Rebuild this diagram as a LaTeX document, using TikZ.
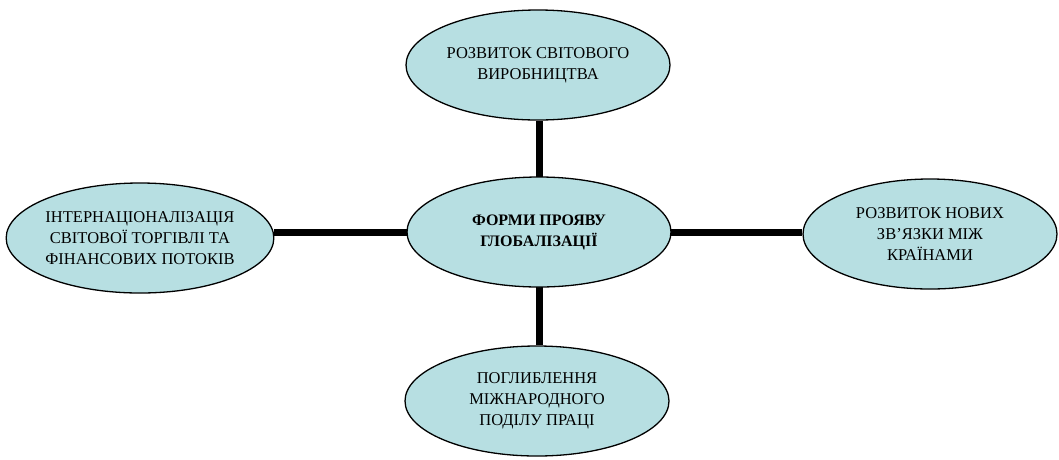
\documentclass[tikz,border=0pt]{standalone}
\usepackage{fontspec}
\setmainfont{Liberation Serif}
\usetikzlibrary{shapes.geometric,backgrounds}
\definecolor{ellfill}{RGB}{183,223,226}
\begin{document}
\begin{tikzpicture}[x=1pt,y=-1pt,
  oval/.style={ellipse,draw=black,line width=1.3pt,fill=ellfill,
    minimum width=264pt,minimum height=110pt,inner sep=0pt,
    align=center,font=\fontsize{16.5}{21}\selectfont},
  link/.style={line width=7pt,black}]
\useasboundingbox (0,0) rectangle (1059,459);
\node[oval] (t) at (538,65) {РОЗВИТОК СВІТОВОГО\\ВИРОБНИЦТВА};
\node[oval,font=\fontsize{16}{21}\selectfont\bfseries] (c) at (539,232) {ФОРМИ ПРОЯВУ\\ГЛОБАЛІЗАЦІЇ};
\node[oval] (l) at (140,238) {ІНТЕРНАЦІОНАЛІЗАЦІЯ\\СВІТОВОЇ ТОРГІВЛІ ТА\\ФІНАНСОВИХ ПОТОКІВ};
\node[oval,minimum width=254pt] (r) at (930,234) {РОЗВИТОК НОВИХ\\ЗВ’ЯЗКИ МІЖ\\КРАЇНАМИ};
\node[oval] (b) at (537,401) {ПОГЛИБЛЕННЯ\\МІЖНАРОДНОГО\\ПОДІЛУ ПРАЦІ};
\begin{scope}[on background layer]
\draw[link] (c.center) -- (c.center |- t.south);
\draw[link] (c.center) -- (c.center |- b.north);
\draw[link] (c.center) -- (l.east |- c.center);
\draw[link] (c.center) -- (r.west |- c.center);
\end{scope}
\end{tikzpicture}
\end{document}
